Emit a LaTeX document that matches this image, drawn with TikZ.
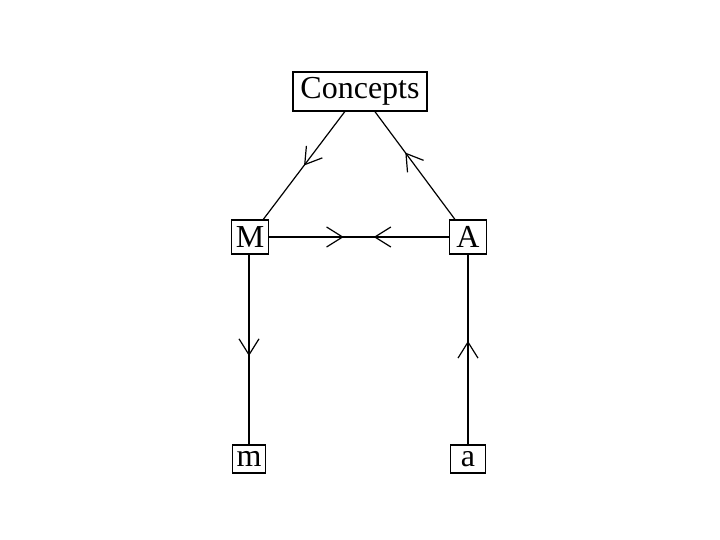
\documentclass[tikz,border=0pt]{standalone}
\usepackage{fontspec}
\setmainfont{Liberation Serif}
\usetikzlibrary{arrows.meta,decorations.markings}
\begin{document}
\begin{tikzpicture}[x=1pt,y=-1pt,
  box/.style={draw, line width=1.2pt, inner sep=0pt, font=\fontsize{32pt}{36pt}\selectfont},
  conn/.style={line width=1.2pt},
  midarrow/.style={postaction={decorate}, decoration={markings,
    mark=at position #1 with {\arrow{Straight Barb[length=16pt,width=20pt]}}}}]
\useasboundingbox (0,0) rectangle (720,540);
\node[box, minimum width=134pt, minimum height=39pt] (C) at (360,91.5) {Concepts};
\node[box, minimum width=37pt, minimum height=34pt] (M) at (250,237) {M};
\node[box, minimum width=37pt, minimum height=34pt] (A) at (468,237) {A};
\node[box, minimum width=33pt, minimum height=28pt] (m) at (249,459) {m};
\node[box, minimum width=35pt, minimum height=28pt] (a) at (468,459) {a};
\draw[conn, midarrow=0.5] (C) -- (M);
\draw[conn, midarrow=0.62] (A) -- (C);
\draw[conn, midarrow=0.415] (M) -- (A);
\draw[conn, midarrow=0.418] (A) -- (M);
\draw[conn, midarrow=0.534] (M.south -| m) -- (m);
\draw[conn, midarrow=0.545] (a) -- (A);
\end{tikzpicture}
\end{document}
